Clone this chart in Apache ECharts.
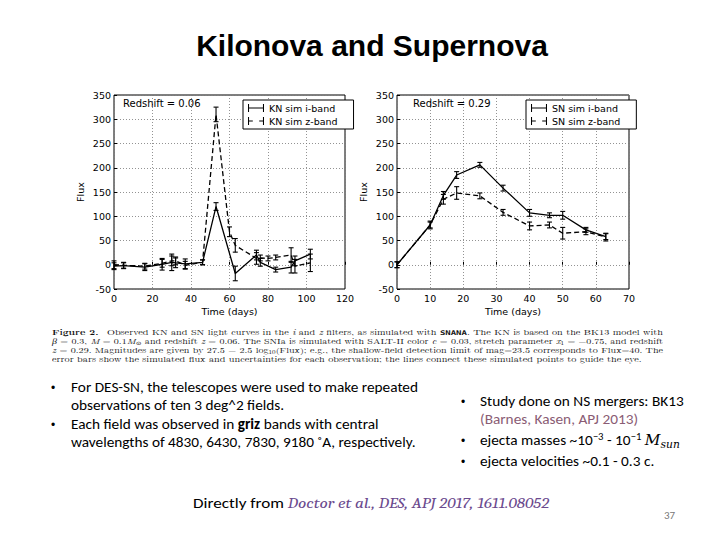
<!DOCTYPE html>
<html><head><meta charset="utf-8">
<script src="https://cdn.jsdelivr.net/npm/echarts@6/dist/echarts.min.js"></script>
<style>
html,body{margin:0;padding:0;background:#fff;width:720px;height:540px;overflow:hidden;}
#chart{position:absolute;left:0;top:0;width:720px;height:540px;}
.t{position:absolute;white-space:nowrap;line-height:1;transform-origin:0 0;}
#title{font-family:'Liberation Sans',Arial,sans-serif;font-weight:bold;font-size:30px;color:#000;}
.cap{font-family:'Latin Modern Roman','CMU Serif','Liberation Serif','DejaVu Serif',serif;font-size:7.3px;color:#111;}
.cap sub{font-size:70%;vertical-align:-0.1em;line-height:0;}
.tt{font-family:'DejaVu Sans Mono',monospace;font-weight:bold;font-size:6.4px;}
.bl{font-family:'Carlito','Calibri','Lato',sans-serif;font-size:15px;color:#000;}
.bl sup{font-size:70%;vertical-align:0.45em;line-height:0;}
.bl sub{font-size:70%;vertical-align:-0.25em;line-height:0;}
.dot{font-family:'Liberation Sans',Arial,sans-serif;font-size:12px;}
.math{font-family:'DejaVu Serif','Liberation Serif',serif;font-style:italic;}
.ref{color:#8a5c74;}
.link{font-family:'Caladea','Cambria','DejaVu Serif','Liberation Serif',serif;font-style:italic;color:#6b4a8e;}
#page{font-family:'Carlito','Calibri','Lato',sans-serif;font-size:11px;color:#777;}
</style></head><body>
<div id="chart"></div>
<div class="t" id="title" style="top:31px;">Kilonova and Supernova</div>

<div class="t cap" id="c1" style="left:52px;top:328.5px;"><b>Figure 2.</b>&nbsp; Observed KN and SN light curves in the <i>i</i> and <i>z</i> filters, as simulated with <span class="tt">SNANA</span>. The KN is based on the BK13 model with</div>
<div class="t cap" id="c2" style="left:52px;top:337.5px;"><i>β</i> = 0.3, <i>M</i> = 0.1<i>M</i><sub>⊙</sub> and redshift <i>z</i> = 0.06. The SNIa is simulated with SALT-II color <i>c</i> = 0.03, stretch parameter <i>x</i><sub>1</sub> = −0.75, and redshift</div>
<div class="t cap" id="c3" style="left:52px;top:346.5px;"><i>z</i> = 0.29. Magnitudes are given by 27.5 − 2.5 log<sub>10</sub>(Flux); e.g., the shallow-field detection limit of mag=23.5 corresponds to Flux=40. The</div>
<div class="t cap" id="c4" style="left:52px;top:355.5px;">error bars show the simulated flux and uncertainties for each observation; the lines connect these simulated points to guide the eye.</div>

<div class="t dot" style="left:51px;top:382px;">•</div>
<div class="t bl" id="b1" style="left:71px;top:380px;">For DES-SN, the telescopes were used to make repeated</div>
<div class="t bl" id="b2" style="left:71px;top:398px;">observations of ten 3 deg^2 fields.</div>
<div class="t dot" style="left:51px;top:419px;">•</div>
<div class="t bl" id="b3" style="left:71px;top:417px;">Each field was observed in <b>griz</b> bands with central</div>
<div class="t bl" id="b4" style="left:71px;top:435px;">wavelengths of 4830, 6430, 7830, 9180 ˚A, respectively.</div>

<div class="t dot" style="left:461px;top:396px;">•</div>
<div class="t bl" id="r1" style="left:480px;top:394px;">Study done on NS mergers: BK13</div>
<div class="t bl ref" id="r2" style="left:480px;top:412px;">(Barnes, Kasen, APJ 2013)</div>
<div class="t dot" style="left:461px;top:435px;">•</div>
<div class="t bl" id="r3" style="left:480px;top:433px;">ejecta masses ~10<sup>−3</sup> - 10<sup>−1</sup> <span class="math">M<sub>sun</sub></span></div>
<div class="t dot" style="left:461px;top:456px;">•</div>
<div class="t bl" id="r4" style="left:480px;top:454px;">ejecta velocities ~0.1 - 0.3 c.</div>

<div class="t bl" id="foot" style="left:193px;top:496px;">Directly from <span class="link">Doctor et al., DES, APJ 2017, 1611.08052</span></div>
<div class="t" id="page" style="left:664px;top:510px;">37</div>

<script>
// ---- data ----
const knTime  = [0, 5, 16, 25, 30, 32, 37, 46, 53, 63, 74, 76, 84, 92, 94, 102];
const knI     = [-3, -2, -5, 1, 5, 4, 2, 5, 120, -18, 20, 5, -10, -5, 8, 22];
const knIErr  = [7, 6, 7, 12, 17, 10, 10, 5, 8, 15, 10, 8, 5, 12, 10, 10];
const knZTime = [0, 5, 16, 25, 30, 32, 37, 46, 53, 60, 63, 74, 76, 80, 84, 92, 94, 102];
const knZ     = [0, -1, -3, 3, 8, 8, -1, 5, 310, 68, 40, 13, 14, 13, 15, 20, -3, 4];
const knZErr  = [8, 6, 6, 8, 10, 8, 8, 5, 15, 10, 14, 12, 6, 5, 5, 15, 14, 18];
const snTime  = [0, 10, 14, 18, 25, 32, 40, 46, 50, 57, 63];
const snI     = [0, 82, 143, 185, 206, 158, 107, 102, 102, 72, 58];
const snIErr  = [6, 6, 8, 7, 5, 6, 7, 5, 8, 5, 6];
const snZ     = [0, 82, 135, 148, 142, 108, 80, 82, 65, 68, 57];
const snZErr  = [6, 8, 10, 13, 6, 6, 8, 6, 12, 6, 8];
const yTicks  = [-50, 350, 50];
const knXTicks = [0, 120, 20];
const snXTicks = [0, 70, 10];
const redshifts = ['Redshift = 0.06', 'Redshift = 0.29'];
const legendNames = [['KN sim i-band', 'KN sim z-band'], ['SN sim i-band', 'SN sim z-band']];

// ---- text fitting ----
function natW(el){ el.style.transform='none'; return el.getBoundingClientRect().width; }
function setScale(el,s){ el.style.transform='scaleX('+s+')'; }
const capS = 611 / natW(document.getElementById('c1'));
['c1','c2','c3'].forEach(id=>{const el=document.getElementById(id); setScale(el, 611/natW(el));});
setScale(document.getElementById('c4'), capS);
const blS = 347 / natW(document.getElementById('b1'));
['b1','b2','b3','b4','r1','r2','r3','r4'].forEach(id=>setScale(document.getElementById(id), blS));
const fEl = document.getElementById('foot');
setScale(fEl, 356 / natW(fEl));
const tEl = document.getElementById('title');
tEl.style.left = (372 - natW(tEl)/2) + 'px';

// ---- chart ----
const pts = (xs, ys) => xs.map((x,i)=>[x, ys[i]]);
const errPts = (xs, ys, es) => xs.map((x,i)=>[x, ys[i], es[i]]);
function errRender(params, api){
  const x=api.value(0), y=api.value(1), e=api.value(2);
  const p1=api.coord([x,y+e]), p2=api.coord([x,y-e]);
  const w=2.5, st={stroke:'#000', lineWidth:1.1};
  return {type:'group', children:[
    {type:'line', shape:{x1:p1[0],y1:p1[1],x2:p2[0],y2:p2[1]}, style:st},
    {type:'line', shape:{x1:p1[0]-w,y1:p1[1],x2:p1[0]+w,y2:p1[1]}, style:st},
    {type:'line', shape:{x1:p2[0]-w,y1:p2[1],x2:p2[0]+w,y2:p2[1]}, style:st}
  ]};
}
const font = 'DejaVu Sans';
const iconSolid = 'path://M0,0h1.3v10h-1.3z M0,4.4h20v1.2h-20z M18.7,0h1.3v10h-1.3z';
const iconDash  = 'path://M0,0h1.3v10h-1.3z M0,4.4h6v1.2h-6z M14,4.4h6v1.2h-6z M18.7,0h1.3v10h-1.3z';
function xAx(idx, t){ return {
  gridIndex: idx, type:'value', min:t[0], max:t[1], interval:t[2],
  name:'Time (days)', nameLocation:'middle', nameGap:17,
  nameTextStyle:{fontFamily:font, fontSize:9.5, color:'#000'},
  axisLine:{show:false}, axisTick:{inside:true, length:3, lineStyle:{color:'#000'}},
  axisLabel:{fontFamily:font, fontSize:9.5, color:'#000', margin:4},
  splitLine:{show:true, lineStyle:{type:[1,2], color:'#777', width:0.8}}
};}
function yAx(idx){ return {
  gridIndex: idx, type:'value', min:yTicks[0], max:yTicks[1], interval:yTicks[2],
  name:'Flux', nameLocation:'middle', nameGap:29, nameRotate:90,
  nameTextStyle:{fontFamily:font, fontSize:9.5, color:'#000'},
  axisLine:{show:false}, axisTick:{inside:true, length:3, lineStyle:{color:'#000'}},
  axisLabel:{fontFamily:font, fontSize:9.5, color:'#000', margin:3},
  splitLine:{show:true, lineStyle:{type:[1,2], color:'#777', width:0.8}}
};}
function lineS(name, idx, data, dashed){ return {
  name, type:'line', xAxisIndex:idx, yAxisIndex:idx, data, symbol:'none',
  color:'#000', lineStyle:{color:'#000', width:1.3, type: dashed ? [5,3] : 'solid'}, z:3, animation:false
};}
function errS(name, idx, data){ return {
  name, type:'custom', xAxisIndex:idx, yAxisIndex:idx, data, encode:{x:0,y:1},
  renderItem: errRender, z:4, animation:false
};}
function legendCfg(names, left){ return {
  data:[{name:names[0], icon:iconSolid},{name:names[1], icon:iconDash}],
  orient:'vertical', left, top:100, itemWidth:16, itemHeight:8, itemGap:3,
  padding:[3,16,3,5], borderColor:'#000', borderWidth:1, backgroundColor:'#fff',
  selectedMode:false, textStyle:{fontFamily:font, fontSize:9.5, color:'#000'}
};}
const chart = echarts.init(document.getElementById('chart'), null, {renderer:'svg'});
chart.setOption({
  animation:false,
  color:['#000'],
  title:[
    {text:redshifts[0], left:123, top:98, padding:0, textStyle:{fontFamily:font, fontSize:10, fontWeight:'normal', color:'#000'}},
    {text:redshifts[1], left:413, top:98, padding:0, textStyle:{fontFamily:font, fontSize:10, fontWeight:'normal', color:'#000'}}
  ],
  legend:[legendCfg(legendNames[0], 243), legendCfg(legendNames[1], 526)],
  grid:[
    {left:114, top:95, width:231, height:194, show:true, borderColor:'#000', borderWidth:1, backgroundColor:'#fff'},
    {left:397, top:95, width:232, height:194, show:true, borderColor:'#000', borderWidth:1, backgroundColor:'#fff'}
  ],
  xAxis:[xAx(0, knXTicks), xAx(1, snXTicks)],
  yAxis:[yAx(0), yAx(1)],
  series:[
    lineS(legendNames[0][0], 0, pts(knTime, knI), false),
    lineS(legendNames[0][1], 0, pts(knZTime, knZ), true),
    errS('kn-i-err', 0, errPts(knTime, knI, knIErr)),
    errS('kn-z-err', 0, errPts(knZTime, knZ, knZErr)),
    lineS(legendNames[1][0], 1, pts(snTime, snI), false),
    lineS(legendNames[1][1], 1, pts(snTime, snZ), true),
    errS('sn-i-err', 1, errPts(snTime, snI, snIErr)),
    errS('sn-z-err', 1, errPts(snTime, snZ, snZErr))
  ]
});
</script>
</body></html>
